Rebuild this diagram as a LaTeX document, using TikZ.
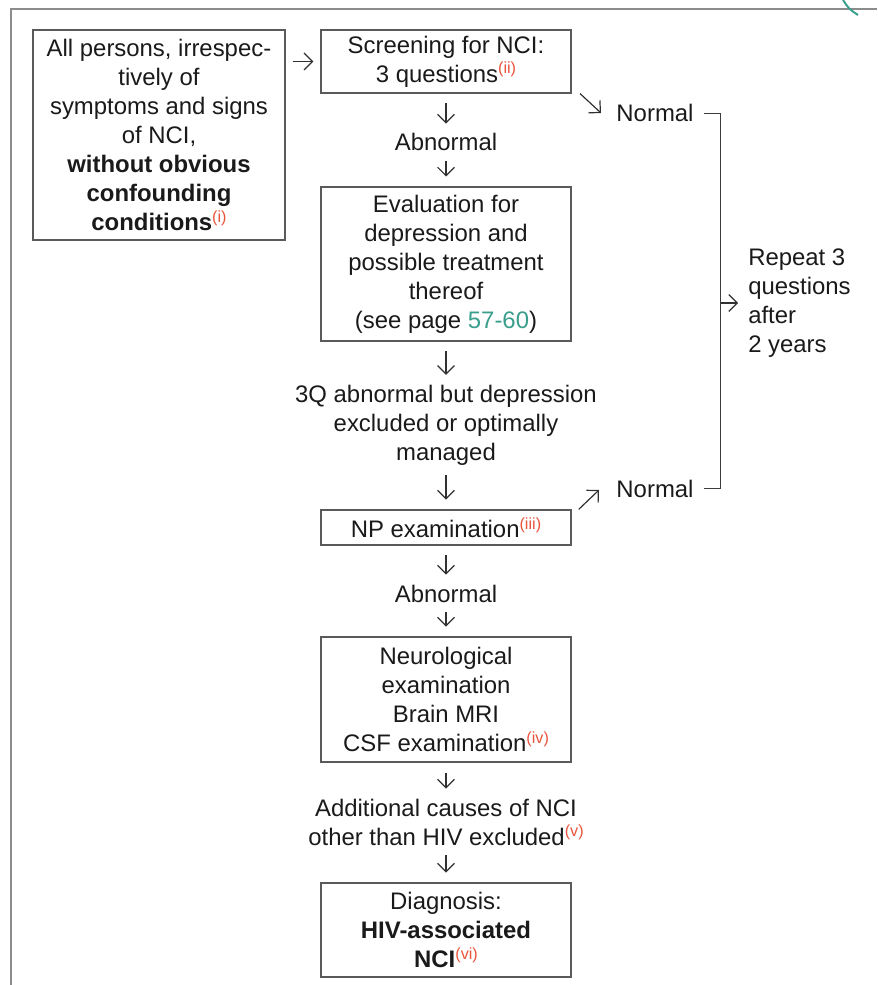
\documentclass[tikz,border=0pt]{standalone}
\usepackage{fontspec}
\setmainfont{Liberation Sans}
\usetikzlibrary{arrows.meta,positioning,shadows}
\definecolor{ink}{HTML}{1A1A1A}
\definecolor{edge}{HTML}{5A5A5A}
\definecolor{frm}{HTML}{8C8C8C}
\definecolor{fnred}{HTML}{E8543C}
\definecolor{pgteal}{HTML}{3A9E8C}
\newcommand{\fnref}[1]{\raisebox{6pt}{\fontsize{11.5}{11.5}\selectfont\mdseries\textcolor{fnred}{(#1)}}}
\tikzset{
  box/.style={draw=edge,line width=0.9pt,fill=white,align=center,inner sep=0pt,minimum width=6.25cm,
    drop shadow={shadow xshift=0.8pt,shadow yshift=-0.8pt,fill=black,opacity=0.25}},
  lbl/.style={align=center,inner sep=0pt},
  ar/.style={-{Straight Barb[length=6pt,width=12pt]},line width=0.85pt,draw=ink!90,shorten <=7pt,shorten >=7pt},
  br/.style={line width=0.9pt,draw=ink!85},
}
\begin{document}
\begin{tikzpicture}[x=0.025cm,y=-0.025cm,font=\fontsize{17}{20.6}\selectfont,text=ink]
\useasboundingbox (0,0) rectangle (877,985);
\draw[frm,line width=1.4pt] (877,9) -- (11,9) -- (11,985);
\draw[pgteal,line width=1.4pt] (843,0) .. controls (849,9) .. (858,15);

\node[box,minimum width=6.3cm,minimum height=5.25cm] (persons) at (159,135) {All persons, irrespec-\\tively of\\symptoms and signs\\of NCI,\\\textbf{without obvious}\\\textbf{confounding}\\\textbf{conditions}\fnref{i}};
\node[box,minimum height=1.575cm] (screen) at (446,61.5) {Screening for NCI:\\3 questions\fnref{ii}};
\node[lbl,anchor=base] (abn1) at (446,151) {Abnormal};
\node[box,minimum height=3.85cm] (depr) at (446,264) {Evaluation for\\depression and\\possible treatment\\thereof\\(see page \textcolor{pgteal}{57-60})};
\node[lbl] (excl) at (446,425) {3Q abnormal but depression\\excluded or optimally\\managed};
\node[box,minimum height=0.875cm] (npex) at (446,527.5) {NP examination\fnref{iii}};
\node[lbl,anchor=base] (abn2) at (446,602) {Abnormal};
\node[box,minimum height=3.125cm] (neuro) at (446,699.5) {Neurological\\examination\\Brain MRI\\CSF examination\fnref{iv}};
\node[lbl] (other) at (446,822) {Additional causes of NCI\\other than HIV excluded\fnref{v}};
\node[box,minimum height=2.35cm] (diag) at (446,930) {Diagnosis:\\\textbf{HIV-associated}\\\textbf{NCI}\fnref{vi}};
\node[lbl,anchor=base] (norm1) at (655,122) {Normal};
\node[lbl,anchor=base] (norm2) at (655,497) {Normal};
\node[lbl,align=left,anchor=west] (repeat) at (748,303) {Repeat 3\\questions\\after\\2 years};

\draw[ar,shorten <=5pt,shorten >=5pt] (persons.east |- screen.west) -- (screen.west);
\draw[ar] (screen) -- (abn1);
\draw[ar] (abn1) -- (depr);
\draw[ar] (depr) -- (excl);
\draw[ar] (excl) -- (npex);
\draw[ar] (npex) -- (abn2);
\draw[ar] (abn2) -- (neuro);
\draw[ar] (neuro) -- (other);
\draw[ar] (other) -- (diag);

\coordinate (tip1) at (601,113);
\coordinate (tip2) at (599,490);
\draw[ar,shorten <=0pt,shorten >=0pt] ([xshift=6pt]screen.south east) -- (tip1);
\draw[ar,shorten <=0pt,shorten >=0pt] ([xshift=5pt]npex.north east) -- (tip2);

\coordinate (brk) at ([xshift=19pt]norm1.east);
\draw[br] ([xshift=7pt]norm1.east) -| ([xshift=19pt]norm2.east) -- ([xshift=7pt]norm2.east);
\draw[ar,shorten <=0pt] (brk |- repeat.west) -- (repeat.west);
\end{tikzpicture}
\end{document}
